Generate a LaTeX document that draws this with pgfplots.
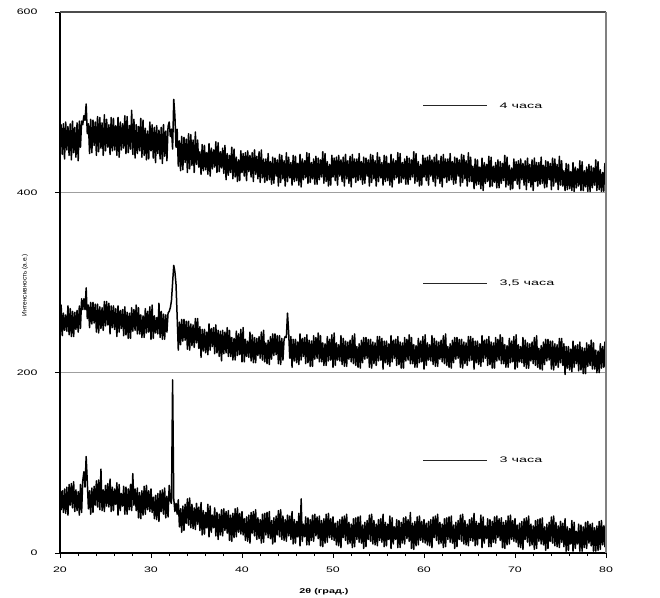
\documentclass[border=0pt]{standalone}
\usepackage{fontspec}
\setmainfont{Liberation Sans}[FakeStretch=1.55]
\newfontfamily\plainfont{Liberation Sans}
\newfontfamily\legfont{Liberation Sans}[FakeStretch=1.8]
\usepackage{pgfplots}
\usepackage{pgfplotstable}
\pgfplotsset{compat=1.18}
\pgfplotstableread{
x a b c
20 74 237 446
20.125 48 275 475
20.25 69 241 442
20.375 45 266 476
20.5 71 247 437
20.625 44 264 478
20.75 73 246 447
20.875 42 274 473
21 76 242 441
21.125 53 271 476
21.25 77 240 436
21.375 50 268 479
21.5 79 240 444
21.625 46 267 472
21.75 70 248 439
21.875 47 269 477
22 68 245 435
22.125 42 274 479
22.25 76 249 450
22.375 45 282 479
22.5 80 270 475
22.625 90 282 485
22.75 73 270 480
22.875 107 294 498
23 79 260 465
23.125 49 275 476
23.25 69 250 443
23.375 43 278 481
23.5 72 254 444
23.625 45 278 480
23.75 74 255 452
23.875 53 276 478
24 80 245 441
24.125 51 276 484
24.25 81 244 445
24.375 48 273 483
24.5 93 249 449
24.625 47 272 477
24.75 70 247 441
24.875 46 279 486
25 75 252 446
25.125 52 279 481
25.25 77 253 450
25.375 51 277 475
25.5 82 243 442
25.625 46 274 483
25.75 73 250 446
25.875 47 274 482
26 71 248 447
26.125 54 271 474
26.25 78 240 441
26.375 42 274 483
26.5 76 245 439
26.625 47 269 478
26.75 66 249 447
26.875 52 270 476
27 74 241 449
27.125 43 273 485
27.25 73 242 443
27.375 43 267 484
27.5 71 238 444
27.625 48 266 474
27.75 76 238 448
27.875 47 272 491
28 88 246 442
28.125 53 270 481
28.25 71 247 438
28.375 47 275 475
28.5 72 243 443
28.625 39 272 473
28.75 67 243 446
28.875 38 264 482
29 69 239 439
29.125 42 263 480
29.25 74 239 441
29.375 43 271 471
29.5 75 244 436
29.625 48 268 468
29.75 69 245 437
29.875 46 273 478
30 71 237 446
30.125 45 275 475
30.25 62 238 438
30.375 38 263 472
30.5 64 244 433
30.625 37 261 474
30.75 66 243 443
30.875 35 277 469
31 69 239 437
31.125 46 268 472
31.25 70 237 432
31.375 43 265 475
31.5 72 237 440
31.625 39 264 468
31.75 63 245 435
31.875 40 266 473
32 75 268 478
32.125 58 272 462
32.25 55 280 470
32.375 192 300 448
32.5 60 319 503
32.625 46 312 485
32.75 55 298 450
32.875 43 262 470
33 59 225 429
33.125 29 256 457
33.25 49 231 424
33.375 23 259 462
33.5 52 235 425
33.625 25 259 461
33.75 54 236 433
33.875 33 257 459
34 60 226 422
34.125 31 257 465
34.25 61 225 426
34.375 28 254 464
34.5 54 230 430
34.625 27 253 458
34.75 50 228 422
34.875 26 260 467
35 55 233 431
35.125 32 260 458
35.25 51 227 428
35.375 25 251 445
35.5 56 217 420
35.625 20 248 453
35.75 47 224 424
35.875 21 248 452
36 45 222 425
36.125 28 245 444
36.25 54 220 420
36.375 18 254 454
36.5 52 225 418
36.625 23 249 449
36.75 42 229 426
36.875 28 250 447
37 50 221 428
37.125 19 253 456
37.25 45 222 422
37.375 15 247 455
37.5 43 218 423
37.625 20 246 445
37.75 48 213 427
37.875 19 247 449
38 49 221 421
38.125 25 245 452
38.25 46 222 414
38.375 22 250 443
38.5 47 218 419
38.625 14 247 441
38.75 42 218 422
38.875 13 239 450
39 44 214 415
39.125 17 238 448
39.25 49 214 417
39.375 18 246 439
39.5 50 219 412
39.625 23 243 436
39.75 44 220 413
39.875 21 248 446
40 46 212 422
40.125 20 250 443
40.25 38 212 418
40.375 14 237 444
40.5 40 218 413
40.625 13 235 446
40.75 42 217 423
40.875 11 245 441
41 45 213 417
41.125 22 242 444
41.25 46 211 412
41.375 19 239 447
41.5 48 211 420
41.625 15 238 440
41.75 39 219 415
41.875 16 240 445
42 37 216 411
42.125 11 245 447
42.25 43 214 416
42.375 12 247 437
42.5 44 212 411
42.625 20 233 437
42.75 45 210 413
42.875 17 236 443
43 46 209 414
43.125 16 240 434
43.25 36 215 409
43.375 10 243 439
43.5 39 219 410
43.625 12 243 438
43.75 41 220 418
43.875 20 241 436
44 47 210 407
44.125 18 241 442
44.25 48 209 411
44.375 15 238 441
44.5 41 214 415
44.625 14 237 435
44.75 37 240 407
44.875 13 239 444
45 42 266 412
45.125 19 245 439
45.25 41 216 416
45.375 15 240 433
45.5 46 206 408
45.625 10 237 441
45.75 37 213 412
45.875 11 237 440
46 35 211 413
46.125 18 234 432
46.25 44 209 408
46.375 8 243 442
46.5 60 214 406
46.625 13 238 437
46.75 32 218 414
46.875 18 239 435
47 40 210 416
47.125 9 242 444
47.25 39 211 410
47.375 9 236 443
47.5 37 207 411
47.625 14 235 433
47.75 42 207 415
47.875 13 241 437
48 43 215 409
48.125 19 239 440
48.25 40 216 409
48.375 16 244 438
48.5 41 212 414
48.625 8 241 436
48.75 36 212 417
48.875 7 233 445
49 38 208 410
49.125 11 232 443
49.25 43 208 412
49.375 12 240 434
49.5 44 213 407
49.625 17 237 431
49.75 38 214 408
49.875 15 242 441
50 40 206 417
50.125 14 244 438
50.25 33 208 413
50.375 9 233 439
50.5 35 214 408
50.625 8 231 441
50.75 37 213 418
50.875 6 241 436
51 40 209 412
51.125 17 238 439
51.25 41 207 407
51.375 14 235 442
51.5 43 207 415
51.625 10 234 435
51.75 34 215 410
51.875 11 236 440
52 32 212 406
52.125 6 241 442
52.25 38 210 416
52.375 7 243 437
52.5 39 208 411
52.625 15 229 437
52.75 40 206 413
52.875 12 232 443
53 41 205 414
53.125 11 236 434
53.25 31 211 409
53.375 5 239 439
53.5 34 215 410
53.625 7 239 438
53.75 36 216 418
53.875 15 237 436
54 42 206 407
54.125 13 237 442
54.25 43 205 411
54.375 10 234 441
54.5 36 210 415
54.625 9 233 435
54.75 32 208 407
54.875 8 240 444
55 37 213 412
55.125 14 240 439
55.25 38 214 416
55.375 12 238 433
55.5 43 204 408
55.625 7 235 441
55.75 34 211 412
55.875 8 235 440
56 32 209 413
56.125 15 232 432
56.25 41 207 408
56.375 5 241 442
56.5 39 212 406
56.625 10 236 437
56.75 29 216 414
56.875 15 237 435
57 37 208 416
57.125 6 240 444
57.25 36 209 410
57.375 6 234 443
57.5 34 205 411
57.625 11 233 433
57.75 39 205 415
57.875 10 239 437
58 40 213 409
58.125 16 237 440
58.25 37 214 409
58.375 13 242 438
58.5 45 210 414
58.625 5 239 436
58.75 33 210 417
58.875 4 231 445
59 35 206 410
59.125 8 230 443
59.25 40 206 412
59.375 9 238 434
59.5 41 211 407
59.625 14 235 431
59.75 35 212 408
59.875 12 240 441
60 37 204 417
60.125 11 242 438
60.25 33 208 413
60.375 9 233 439
60.5 35 214 408
60.625 8 231 441
60.75 37 213 418
60.875 6 241 436
61 40 209 412
61.125 17 238 439
61.25 41 207 407
61.375 14 235 442
61.5 43 207 415
61.625 10 234 435
61.75 34 215 410
61.875 11 236 440
62 32 212 406
62.125 6 241 442
62.25 38 210 416
62.375 7 243 437
62.5 39 208 411
62.625 15 229 437
62.75 40 206 413
62.875 12 232 443
63 41 205 414
63.125 11 236 434
63.25 31 211 409
63.375 5 239 439
63.5 34 215 410
63.625 7 239 438
63.75 36 216 418
63.875 15 237 436
64 42 206 407
64.125 13 237 442
64.25 43 205 411
64.375 10 234 441
64.5 36 210 415
64.625 9 233 435
64.75 32 208 407
64.875 8 240 444
65 37 213 412
65.125 14 240 439
65.25 39 214 412
65.375 13 238 429
65.5 44 204 404
65.625 8 235 437
65.75 35 211 408
65.875 9 235 436
66 33 209 409
66.125 16 232 428
66.25 42 207 404
66.375 6 241 438
66.5 40 212 402
66.625 11 236 433
66.75 30 216 410
66.875 16 237 431
67 38 208 412
67.125 7 240 440
67.25 37 209 406
67.375 7 234 439
67.5 35 205 407
67.625 12 233 429
67.75 40 205 411
67.875 11 239 433
68 41 213 405
68.125 17 237 436
68.25 38 214 405
68.375 14 242 434
68.5 39 210 410
68.625 6 239 432
68.75 34 210 413
68.875 5 231 441
69 36 206 406
69.125 9 230 439
69.25 41 206 408
69.375 10 238 430
69.5 42 211 403
69.625 15 235 427
69.75 36 212 404
69.875 13 240 437
70 38 204 413
70.125 12 242 434
70.25 31 206 409
70.375 7 231 435
70.5 33 212 404
70.625 6 229 437
70.75 35 211 414
70.875 4 239 432
71 38 207 408
71.125 15 236 435
71.25 39 205 403
71.375 12 233 438
71.5 41 205 411
71.625 8 232 431
71.75 32 213 406
71.875 9 234 436
72 30 210 402
72.125 4 239 438
72.25 36 208 412
72.375 5 241 433
72.5 37 206 407
72.625 13 227 433
72.75 38 204 409
72.875 10 230 439
73 39 203 410
73.125 9 234 430
73.25 29 209 405
73.375 3 237 435
73.5 32 213 406
73.625 5 237 434
73.75 34 214 414
73.875 13 235 432
74 40 204 403
74.125 11 235 438
74.25 41 203 407
74.375 8 232 437
74.5 34 208 411
74.625 7 231 431
74.75 30 206 403
74.875 6 238 440
75 35 211 408
75.125 12 238 435
75.25 33 208 407
75.375 7 232 424
75.5 38 198 402
75.625 2 229 432
75.75 29 205 403
75.875 3 229 431
76 27 203 404
76.125 10 226 423
76.25 36 201 402
76.375 2 235 433
76.5 34 206 401
76.625 5 230 428
76.75 24 210 405
76.875 10 231 426
77 32 202 407
77.125 2 234 435
77.25 31 203 402
77.375 2 228 434
77.5 29 199 402
77.625 6 227 424
77.75 34 199 406
77.875 5 233 428
78 35 207 401
78.125 11 231 431
78.25 32 208 401
78.375 8 236 429
78.5 33 204 405
78.625 2 233 427
78.75 28 204 408
78.875 2 225 436
79 30 200 402
79.125 3 224 434
79.25 35 200 403
79.375 4 232 425
79.5 36 205 401
79.625 9 229 422
79.75 30 206 401
79.875 7 234 432
80 39 198 408
}\xrd
\begin{document}
\begin{tikzpicture}
\useasboundingbox (-60bp,-45bp) rectangle (600bp,553bp);
\begin{axis}[
  scale only axis, width=546bp, height=541bp,
  xmin=20, xmax=80, ymin=0, ymax=600,
  axis x line*=bottom, axis y line*=left,
  xtick={20,30,...,80}, minor x tick num=4,
  ytick={0,200,400,600},
  tick align=outside,
  major tick length=5bp, minor tick length=3bp,
  tick style={black, line width=0.8pt},
  x axis line style={line width=1.5pt},
  y axis line style={line width=2.2pt},
  ymajorgrids, grid style={gray!75, line width=0.9pt},
  ticklabel style={font=\fontsize{8}{9}\selectfont},
  /pgf/number format/assume math mode=true,
  yticklabel style={xshift=-14bp},
  xticklabel style={yshift=-5bp},
  xlabel={\textbf{2θ (град.)}},
  xlabel style={font=\fontsize{7}{8}\selectfont, at={(axis description cs:0.4835,0)}, anchor=center, yshift=-39bp},
  ylabel={Интенсивность (а.е.)},
  ylabel style={font=\plainfont\fontsize{6.5}{7}\selectfont, at={(axis description cs:-0.064,0.495)}, anchor=center},
]
\addplot[black, line width=1.5pt, line join=round, no markers] table[x=x, y=a] {\xrd};
\addplot[black, line width=1.5pt, line join=round, no markers] table[x=x, y=b] {\xrd};
\addplot[black, line width=1.5pt, line join=round, no markers] table[x=x, y=c] {\xrd};
\draw[black!85, line width=1.2pt] (axis cs:59.9,496) -- (axis cs:66.9,496);
\draw[black!85, line width=1.2pt] (axis cs:59.9,299) -- (axis cs:66.9,299);
\draw[black!85, line width=1.2pt] (axis cs:59.9,103) -- (axis cs:66.9,103);
\node[anchor=west, font=\legfont\fontsize{8}{9}\selectfont, inner sep=0pt] at (axis cs:68.3,496) {4 часа};
\node[anchor=west, font=\legfont\fontsize{8}{9}\selectfont, inner sep=0pt] at (axis cs:68.3,299) {3,5 часа};
\node[anchor=west, font=\legfont\fontsize{8}{9}\selectfont, inner sep=0pt] at (axis cs:68.3,103) {3 часа};
\end{axis}
\draw[gray!60!black, line width=1.2pt] (current axis.north west) -- (current axis.north east);
\draw[gray, line width=2pt] (current axis.north east) -- (current axis.south east);
\end{tikzpicture}
\end{document}
